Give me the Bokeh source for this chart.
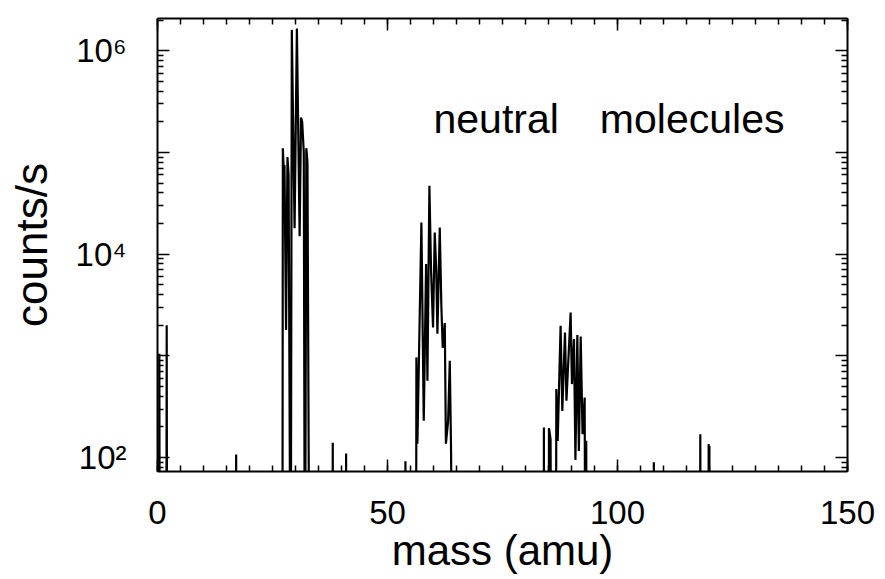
from bokeh.plotting import figure
from bokeh.models import (LinearAxis, LogAxis, FixedTicker, Range1d, Label,
                          CustomLabelingPolicy)
from bokeh.embed import file_html
from bokeh.resources import INLINE

B = 1.0  # baseline level, below the axis floor

# ---- data: mass (amu) and counts/s ----
mass_low = [0.3, 0.4, 0.5, 1.9, 2.0, 2.1, 17.0, 17.1, 17.2]
counts_low = [B, 1.05e3, B, B, 2.0e3, B, B, 107, B]

mass_c1 = [27.15, 27.25, 27.45, 27.6, 27.95, 28.25, 28.5, 28.95, 29.2, 29.8,
           30.3, 30.9, 31.2, 31.45, 31.8, 32.05, 32.35, 32.6, 33.05]
counts_c1 = [B, 1.1e5, 6.5e4, 7.5e4, 1.8e3, 9.0e4, 6.0e4, B, 1.6e6, 1.8e4,
             1.65e6, 1.5e4, 2.2e5, 2.0e5, 1.0e5, B, 1.1e5, 8.0e4, B]

mass_mid = [38.0, 38.1, 38.2, 40.9, 41.0, 41.1, 53.8, 53.9, 54.0]
counts_mid = [B, 140, B, B, 110, B, B, 92, B]

mass_c2 = [56.2, 56.28, 56.5, 57.37, 57.88, 58.39, 58.68, 59.11, 59.47, 59.9,
           60.27, 60.6, 60.85, 61.36, 61.7, 62.0, 62.45, 62.7, 63.18, 63.54,
           63.8, 64.19]
counts_c2 = [B, 966, 137, 2.05e4, 230, 8.0e3, 570, 4.7e4, 6.9e3, 1.9e3,
             1.63e4, 6.9e3, 1.65e3, 1.83e4, 3.2e3, 1.2e3, 2.1e3, 137, 230, 895,
             137, B]

mass_c3 = [83.95, 84.0, 84.05, 85.05, 85.1, 85.3, 85.45, 85.6, 86.6, 86.7,
           87.0, 87.63, 88.0, 88.58, 88.9, 89.81, 90.1, 90.54, 90.85, 91.27,
           91.6, 92.0, 92.4, 92.86, 93.05, 93.2, 93.35]
counts_c3 = [B, 198, B, B, 195, 170, 150, B, B, 471,
             146, 1.98e3, 288, 1.7e3, 363, 2.67e3, 528, 1.46e3, 95, 1.6e3,
             116, 1.55e3, 170, 390, B, 146, B]

mass_high = [107.8, 107.9, 108.0, 117.9, 118.0, 118.1,
             119.75, 119.82, 119.9, 119.98, 120.05]
counts_high = [B, 90, B, B, 170, B, B, 136, 95, 130, B]

x_major = [0, 50, 100, 150]
x_minor = list(range(0, 151, 5))
y_major = [1e2, 1e3, 1e4, 1e5, 1e6]
y_minor = [k * 10.0 ** d for d in range(1, 7) for k in range(2, 10)]
y_labels = {100: "10²", 10000: "10⁴", 1000000: "10⁶"}

mass = mass_low + mass_c1 + mass_mid + mass_c2 + mass_c3 + mass_high
counts = counts_low + counts_c1 + counts_mid + counts_c2 + counts_c3 + counts_high

FONT = "Liberation Sans"

p = figure(width=885, height=579, y_axis_type="log",
           x_range=Range1d(0, 150), y_range=Range1d(73, 2.07e6),
           output_backend="svg", toolbar_location=None,
           min_border_left=157, min_border_right=38,
           min_border_top=18, min_border_bottom=108)
p.outline_line_color = None
p.grid.visible = False
p.background_fill_color = "white"
p.border_fill_color = "white"

p.line(mass, counts, line_color="black", line_width=2.2)

no_labels = CustomLabelingPolicy(
    code="for (const i of Array.from(indices)) { indices.unset(i) } return indices")
odd_decades_off = CustomLabelingPolicy(
    code="const a = Array.from(indices); for (const i of a) { if (i % 2 == 1) indices.unset(i) } return indices")


def style(ax, labels=True):
    ax.axis_line_color = "black"
    ax.axis_line_width = 2
    ax.major_tick_line_color = "black"
    ax.minor_tick_line_color = "black"
    ax.major_tick_line_width = 1.5
    ax.minor_tick_line_width = 1.5
    ax.major_tick_in = 12
    ax.major_tick_out = 0
    ax.minor_tick_in = 6
    ax.minor_tick_out = 0
    if labels:
        ax.major_label_text_font = FONT
        ax.major_label_text_color = "black"
        ax.axis_label_text_font = FONT
        ax.axis_label_text_font_style = "normal"
        ax.axis_label_text_color = "black"
    else:
        ax.major_label_text_font_size = "1px"
        ax.major_label_standoff = 0
        ax.major_label_policy = no_labels


xax = p.xaxis[0]
xax.ticker = FixedTicker(ticks=x_major, minor_ticks=x_minor)
xax.axis_label = "mass (amu)"
style(xax)
xax.major_label_text_font_size = "33px"
xax.axis_label_text_font_size = "42px"
xax.major_label_standoff = 29
xax.axis_label_standoff = 0

yax = p.yaxis[0]
yax.ticker = FixedTicker(ticks=y_major, minor_ticks=y_minor)
yax.major_label_overrides = y_labels
yax.major_label_policy = odd_decades_off
yax.axis_label = "counts/s"
style(yax)
yax.major_label_text_font_size = "33px"
yax.axis_label_text_font_size = "44px"
yax.major_label_standoff = 31
yax.axis_label_standoff = 17

top = LinearAxis(ticker=FixedTicker(ticks=x_major, minor_ticks=x_minor))
style(top, labels=False)
p.add_layout(top, "above")

right = LogAxis(ticker=FixedTicker(ticks=y_major, minor_ticks=y_minor))
style(right, labels=False)
p.add_layout(right, "right")

p.add_layout(Label(x=60.0, y=2.15e5, text="neutral\u2003molecules",
                   text_font=FONT, text_font_size="41px",
                   text_color="black", text_align="left",
                   text_baseline="alphabetic"))

open("out.html", "w").write(file_html(p, INLINE))
